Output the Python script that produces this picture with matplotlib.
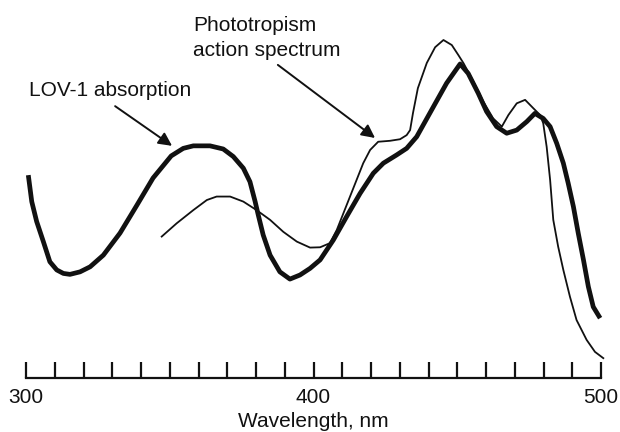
"""
LOV-1 absorption vs phototropism action spectrum.
"""

import matplotlib
matplotlib.use("Agg")
import matplotlib.pyplot as plt

plt.rcParams['font.family'] = ['Liberation Sans', 'DejaVu Sans']

# wavelength (nm) and relative absorbance
lov_nm = [300.8, 302.0, 303.7, 306.0, 308.3, 310.7, 313.0, 315.3, 318.8, 322.3, 326.9,
          332.7, 338.6, 344.2, 350.5, 354.7, 358.2, 364.0, 368.6, 372.1, 375.6, 377.9,
          379.7, 380.8, 382.5, 384.9, 388.3, 391.8, 395.3, 398.8, 402.3, 406.9, 411.5,
          416.2, 420.8, 424.3, 428.9, 432.4, 435.9, 441.7, 446.3, 451.0, 453.8, 457.3,
          460.2, 463.7, 467.2, 470.7, 474.2, 477.0, 479.9, 482.3, 484.6, 486.9, 488.6,
          490.4, 492.1, 493.9, 495.6, 497.3, 499.7]
lov_abs = [0.644, 0.560, 0.497, 0.434, 0.369, 0.343, 0.332, 0.329, 0.337, 0.353, 0.390,
           0.460, 0.549, 0.635, 0.705, 0.729, 0.737, 0.737, 0.727, 0.703, 0.666, 0.623,
           0.560, 0.517, 0.454, 0.390, 0.337, 0.314, 0.327, 0.348, 0.375, 0.438, 0.512,
           0.586, 0.650, 0.682, 0.708, 0.729, 0.766, 0.861, 0.936, 0.997, 0.967, 0.904,
           0.846, 0.798, 0.777, 0.787, 0.814, 0.840, 0.824, 0.798, 0.745, 0.682, 0.618,
           0.544, 0.459, 0.375, 0.290, 0.226, 0.190]

photo_nm = [347.2, 352.4, 358.2, 362.9, 366.3, 371.0, 375.6, 380.2, 384.9, 389.5, 394.2,
            398.8, 402.3, 405.7, 408.1, 410.4, 412.7, 415.0, 417.3, 419.7, 422.5, 426.6,
            430.1, 432.4, 433.6, 434.6, 436.3, 439.4, 442.3, 445.2, 448.1, 450.4, 452.2,
            455.6, 459.1, 462.5, 465.5, 467.8, 470.7, 473.6, 476.5, 478.8, 479.9, 481.1,
            482.3, 483.4, 485.1, 486.9, 489.2, 491.5, 495.0, 497.9, 500.8]
photo_resp = [0.449, 0.491, 0.533, 0.565, 0.576, 0.576, 0.560, 0.533, 0.502, 0.464, 0.433,
              0.414, 0.415, 0.428, 0.470, 0.523, 0.576, 0.629, 0.682, 0.724, 0.750, 0.753,
              0.758, 0.771, 0.787, 0.841, 0.920, 1.000, 1.050, 1.073, 1.057, 1.025, 0.999,
              0.941, 0.877, 0.824, 0.798, 0.835, 0.872, 0.883, 0.856, 0.835, 0.809, 0.734,
              0.629, 0.502, 0.417, 0.343, 0.258, 0.184, 0.121, 0.083, 0.063]

ticks = list(range(300, 501, 10))
tick_labels = [str(t) if t % 100 == 0 else "" for t in ticks]

ink = "#111111"

fig = plt.figure(figsize=(6.2, 4.32), dpi=100)
ax = fig.add_axes([26 / 620, 54 / 432, 575 / 620, 378 / 432])

ax.plot(lov_nm, lov_abs, color=ink, lw=3.4, solid_joinstyle="round", solid_capstyle="butt", clip_on=False)
ax.plot(photo_nm, photo_resp, color=ink, lw=1.3, solid_joinstyle="round", clip_on=False)

ax.set_xlim(300, 500)
ax.set_ylim(0, 1.2)
for s in ["top", "left", "right"]:
    ax.spines[s].set_visible(False)
ax.spines["bottom"].set_linewidth(1.6)
ax.spines["bottom"].set_color(ink)
ax.set_yticks([])
ax.set_xticks(ticks)
ax.set_xticklabels(tick_labels)
ax.tick_params(axis="x", direction="in", length=11.5, width=1.6, color=ink, pad=7,
               labelsize=15, labelcolor=ink)
ax.set_xlabel("Wavelength, nm", fontsize=15, color=ink, labelpad=4)

ax.text(301, 0.914, "LOV-1 absorption", fontsize=15, color=ink, ha="left", va="center")
ax.annotate("", xy=(350.8, 0.737), xytext=(331.0, 0.863),
            arrowprops=dict(arrowstyle="-|>", color=ink, lw=1.4, mutation_scale=20,
                            shrinkA=0, shrinkB=0))

ax.text(358.1, 1.078, "Phototropism\naction spectrum", fontsize=15, color=ink,
        ha="left", va="center", linespacing=1.4)
ax.annotate("", xy=(421.4, 0.762), xytext=(387.6, 0.994),
            arrowprops=dict(arrowstyle="-|>", color=ink, lw=1.4, mutation_scale=20,
                            shrinkA=0, shrinkB=0))

fig.savefig("out.png", dpi=100)
